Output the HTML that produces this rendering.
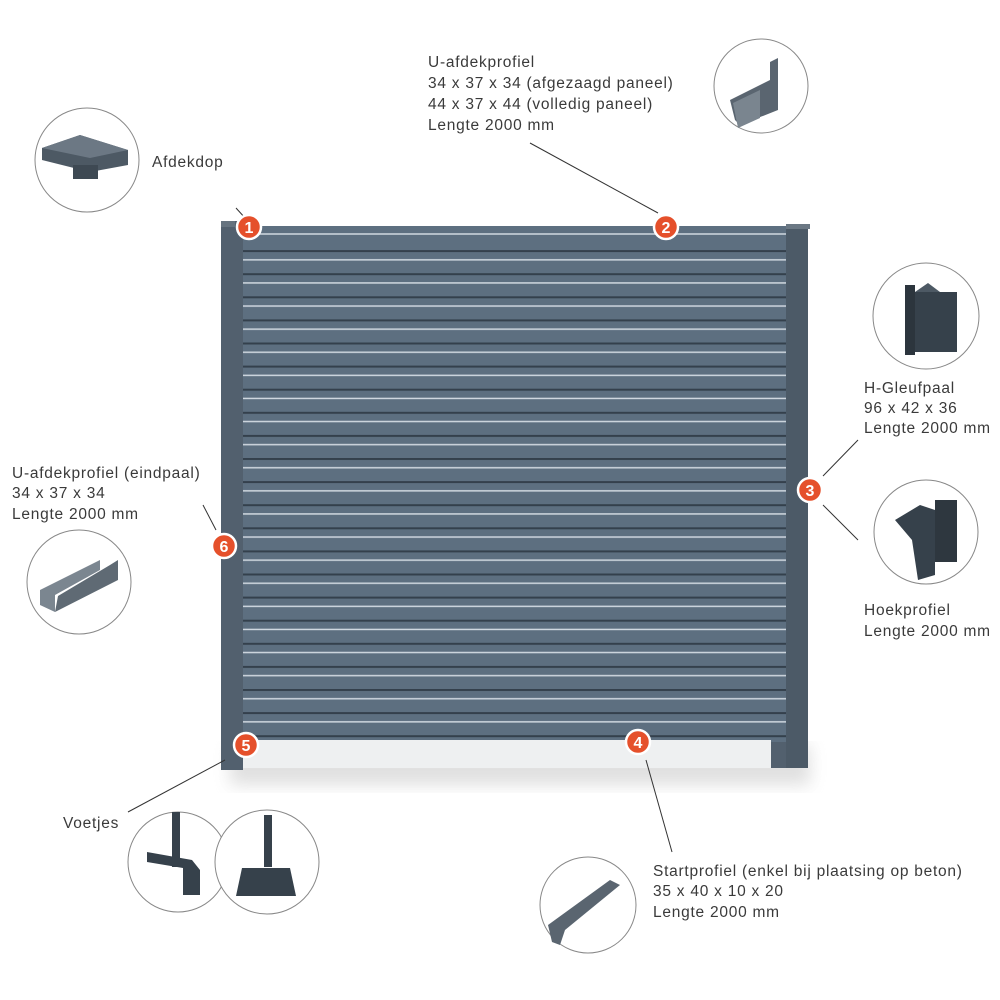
<!DOCTYPE html>
<html><head><meta charset="utf-8"><style>
html,body{margin:0;padding:0;background:#fff;}
svg{display:block;}
text{font-family:"Liberation Sans",sans-serif;font-size:15.5px;letter-spacing:0.75px;fill:#3a3a3a;}
</style></head><body>
<svg width="1000" height="1000" viewBox="0 0 1000 1000" xmlns="http://www.w3.org/2000/svg">
<defs>
<filter id="sh" x="-10%" y="-10%" width="120%" height="130%"><feGaussianBlur stdDeviation="8"/></filter>
<pattern id="slat" x="0" y="227" width="10" height="23.1" patternUnits="userSpaceOnUse">
<rect width="10" height="23.1" fill="#5d6f80"/>
<rect y="0" width="10" height="2" fill="#34404c"/>
<rect y="9" width="10" height="1.5" fill="#d0d8e0"/>
</pattern>
</defs>
<rect x="230" y="745" width="580" height="40" fill="#bbb" opacity="0.45" filter="url(#sh)"/>
<rect x="243" y="226" width="543" height="516" fill="url(#slat)"/>
<rect x="243" y="226" width="543" height="24" fill="#5d6f80"/>
<line x1="243" y1="234" x2="786" y2="234" stroke="#d0d8e0" stroke-width="1.5"/>
<rect x="243" y="740" width="528" height="28" fill="#eef0f1"/>
<rect x="221" y="221" width="22" height="549" fill="#52606e"/>
<rect x="221" y="221" width="14" height="6" fill="#66737f"/>
<rect x="771" y="742" width="15" height="26" fill="#52606e"/>
<rect x="786" y="226" width="22" height="542" fill="#4c5a67"/>
<rect x="786" y="224" width="24" height="5" fill="#6b7884"/>
<g stroke="#333" stroke-width="1" fill="none">
<line x1="236" y1="208" x2="246" y2="219"/>
<line x1="530" y1="143" x2="658" y2="213"/>
<line x1="858" y1="440" x2="823" y2="476"/>
<line x1="823" y1="505" x2="858" y2="540"/>
<line x1="203" y1="505" x2="216" y2="530"/>
<line x1="225" y1="760" x2="128" y2="812"/>
<line x1="646" y1="760" x2="672" y2="852"/>
</g>
<g>
<g><circle cx="249" cy="227" r="12" fill="#e5502b" stroke="#fff" stroke-width="2.5"/><text x="249" y="233" text-anchor="middle" style="fill:#fff;font-weight:bold;font-size:16px;letter-spacing:0">1</text></g>
<g><circle cx="666" cy="227" r="12" fill="#e5502b" stroke="#fff" stroke-width="2.5"/><text x="666" y="233" text-anchor="middle" style="fill:#fff;font-weight:bold;font-size:16px;letter-spacing:0">2</text></g>
<g><circle cx="810" cy="490" r="12" fill="#e5502b" stroke="#fff" stroke-width="2.5"/><text x="810" y="496" text-anchor="middle" style="fill:#fff;font-weight:bold;font-size:16px;letter-spacing:0">3</text></g>
<g><circle cx="638" cy="742" r="12" fill="#e5502b" stroke="#fff" stroke-width="2.5"/><text x="638" y="748" text-anchor="middle" style="fill:#fff;font-weight:bold;font-size:16px;letter-spacing:0">4</text></g>
<g><circle cx="246" cy="745" r="12" fill="#e5502b" stroke="#fff" stroke-width="2.5"/><text x="246" y="751" text-anchor="middle" style="fill:#fff;font-weight:bold;font-size:16px;letter-spacing:0">5</text></g>
<g><circle cx="224" cy="546" r="12" fill="#e5502b" stroke="#fff" stroke-width="2.5"/><text x="224" y="552" text-anchor="middle" style="fill:#fff;font-weight:bold;font-size:16px;letter-spacing:0">6</text></g>
</g>
<g fill="#fff" stroke="#888" stroke-width="1">
<circle cx="87" cy="160" r="52"/>
<circle cx="761" cy="86" r="47"/>
<circle cx="926" cy="316" r="53"/>
<circle cx="926" cy="532" r="52"/>
<circle cx="79" cy="582" r="52"/>
<circle cx="178" cy="862" r="50"/>
<circle cx="267" cy="862" r="52"/>
<circle cx="588" cy="905" r="48"/>
</g>
<polygon points="42,148 80,135 128,150 128,165 90,172 42,160" fill="#4d5964"/>
<polygon points="42,148 80,135 128,150 90,158" fill="#6c7884"/>
<rect x="73" y="165" width="25" height="14" fill="#3e4953"/>
<polygon points="730,100 770,80 770,62 778,58 778,110 740,125 735,120" fill="#5a6570"/>
<polygon points="733,103 760,90 760,118 738,128" fill="#7a858f"/>
<rect x="905" y="292" width="52" height="60" fill="#36414b"/>
<rect x="905" y="285" width="10" height="70" fill="#2c353d"/>
<polygon points="915,292 928,283 940,292" fill="#4d5964"/>
<polygon points="895,520 920,505 935,510 935,575 918,580 912,540" fill="#36414b"/>
<rect x="935" y="500" width="22" height="62" fill="#2e373f"/>
<polygon points="40,590 100,560 100,570 55,595 55,612 40,605" fill="#7b8690"/>
<polygon points="55,612 118,580 118,560 110,565 58,596" fill="#5f6a74"/>
<rect x="172" y="812" width="8" height="55" fill="#36414b"/>
<polygon points="147,852 192,860 200,870 200,895 183,895 183,868 147,862" fill="#36414b"/>
<rect x="264" y="815" width="8" height="52" fill="#36414b"/>
<polygon points="242,868 290,868 296,896 236,896" fill="#36414b"/>
<polygon points="548,925 610,880 620,885 565,930 560,945 552,942" fill="#5a6570"/>
<text x="152" y="167">Afdekdop</text>
<text x="428" y="67">U-afdekprofiel</text>
<text x="428" y="88">34 x 37 x 34 (afgezaagd paneel)</text>
<text x="428" y="109">44 x 37 x 44 (volledig paneel)</text>
<text x="428" y="130">Lengte 2000 mm</text>
<text x="864" y="393">H-Gleufpaal</text>
<text x="864" y="413">96 x 42 x 36</text>
<text x="864" y="433">Lengte 2000 mm</text>
<text x="864" y="615">Hoekprofiel</text>
<text x="864" y="636">Lengte 2000 mm</text>
<text x="12" y="478">U-afdekprofiel (eindpaal)</text>
<text x="12" y="498">34 x 37 x 34</text>
<text x="12" y="519">Lengte 2000 mm</text>
<text x="63" y="828">Voetjes</text>
<text x="653" y="876">Startprofiel (enkel bij plaatsing op beton)</text>
<text x="653" y="896">35 x 40 x 10 x 20</text>
<text x="653" y="917">Lengte 2000 mm</text>
</svg>
</body></html>
